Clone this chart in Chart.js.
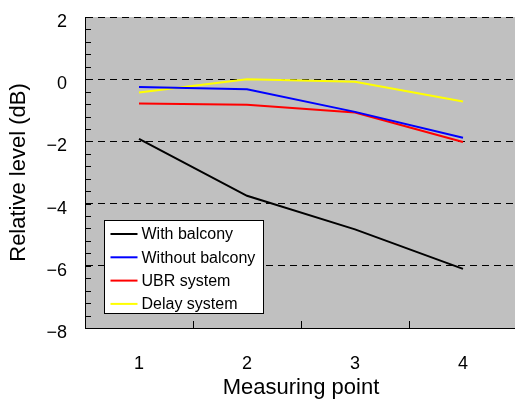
<!DOCTYPE html>
<html>
<head>
<meta charset="utf-8">
<script src="https://cdn.jsdelivr.net/npm/chart.js@4/dist/chart.umd.min.js"></script>
<style>
  html, body { margin: 0; padding: 0; background: #fff; overflow: hidden; }
  canvas { display: block; }
</style>
</head>
<body>
<canvas id="c" width="517" height="401" style="width:517px;height:401px"></canvas>
<script>
const categories = ['1', '2', '3', '4'];
const seriesNames = ['With balcony', 'Without balcony', 'UBR system', 'Delay system'];
const withBalcony = [-1.92, -3.75, -4.83, -6.10];
const withoutBalcony = [-0.25, -0.32, -1.05, -1.88];
const ubrSystem = [-0.78, -0.82, -1.07, -2.02];
const delaySystem = [-0.43, 0.00, -0.08, -0.72];
const seriesColors = ['#000000', '#0000ff', '#ff0000', '#ffff00'];
const yMin = -8, yMax = 2, yMajorStep = 2, yMinorStep = 0.4;

const FONT = 'Liberation Sans, Arial, sans-serif';

const fmt = v => (v < 0 ? '\u2212' + Math.abs(v) : String(v));

const bgPlugin = {
  id: 'plotBg',
  beforeDraw(chart) {
    const {ctx, chartArea: a} = chart;
    ctx.save();
    ctx.fillStyle = '#c0c0c0';
    ctx.fillRect(a.left, a.top, a.right - a.left, a.bottom - a.top);
    ctx.restore();
  }
};

const ticksPlugin = {
  id: 'innerTicks',
  afterDraw(chart) {
    const {ctx, chartArea: a, scales} = chart;
    const y = scales.y, x = scales.x;
    ctx.save();
    ctx.strokeStyle = '#000';
    ctx.lineWidth = 1;
    ctx.beginPath();
    const n = Math.round((yMax - yMin) / yMinorStep);
    for (let i = 1; i < n; i++) {
      const v = yMin + i * yMinorStep;
      const py = Math.round(y.getPixelForValue(v)) + 0.5;
      ctx.moveTo(a.left, py);
      ctx.lineTo(a.left + 6, py);
    }
    for (let i = 0; i < categories.length - 1; i++) {
      const px = Math.round((x.getPixelForValue(i) + x.getPixelForValue(i + 1)) / 2) + 0.5;
      ctx.moveTo(px, a.bottom);
      ctx.lineTo(px, a.bottom - 7);
    }
    ctx.stroke();
    ctx.restore();
  }
};

const legendPlugin = {
  id: 'boxLegend',
  afterDatasetsDraw(chart) {
    const {ctx, chartArea: a} = chart;
    const left = a.left + 19.5, top = a.top + 203.5, w = 159, h = 93;
    ctx.save();
    ctx.fillStyle = '#fff';
    ctx.fillRect(left, top, w, h);
    ctx.strokeStyle = '#000';
    ctx.lineWidth = 1;
    ctx.strokeRect(left, top, w, h);
    ctx.font = '16px ' + FONT;
    ctx.textBaseline = 'middle';
    ctx.textAlign = 'left';
    chart.data.datasets.forEach((ds, i) => {
      const ry = top + 13.5 + i * 23.3;
      ctx.strokeStyle = ds.borderColor;
      ctx.lineWidth = 2;
      ctx.beginPath();
      ctx.moveTo(left + 6, ry);
      ctx.lineTo(left + 33, ry);
      ctx.stroke();
      ctx.fillStyle = '#000';
      ctx.fillText(ds.label, left + 37, ry + 1);
    });
    ctx.restore();
  }
};

const seriesData = [withBalcony, withoutBalcony, ubrSystem, delaySystem];

new Chart(document.getElementById('c'), {
  type: 'line',
  data: {
    labels: categories,
    datasets: seriesData.map((d, i) => ({
      label: seriesNames[i],
      data: d,
      borderColor: seriesColors[i],
      backgroundColor: seriesColors[i],
      borderWidth: 2,
      pointRadius: 0,
      tension: 0,
      fill: false
    }))
  },
  options: {
    responsive: false,
    devicePixelRatio: 1,
    animation: false,
    layout: { padding: { top: 17, left: 0, right: 0, bottom: 0 } },
    plugins: { legend: { display: false }, tooltip: { enabled: false } },
    scales: {
      x: {
        type: 'category',
        offset: true,
        grid: { display: false, drawTicks: false },
        border: { display: true, color: '#000', width: 1 },
        ticks: { color: '#000', font: { family: FONT, size: 18 }, padding: 25, maxRotation: 0 },
        title: {
          display: true, text: 'Measuring point', color: '#000',
          font: { family: FONT, size: 22 }, padding: { top: 0, bottom: 0 }
        },
        afterFit(s) { s.height = 73; s.paddingLeft = 0; s.paddingRight = 0; }
      },
      y: {
        type: 'linear',
        min: yMin, max: yMax,
        grid: { color: '#000', lineWidth: 1, drawTicks: false },
        border: { display: true, color: '#000', width: 1, dash: [7, 5] },
        ticks: {
          stepSize: yMajorStep, color: '#000', padding: 18, labelOffset: 5,
          font: { family: FONT, size: 18 },
          callback: v => fmt(v)
        },
        title: {
          display: true, text: 'Relative level (dB)', color: '#000',
          font: { family: FONT, size: 22 }, padding: { top: 6, bottom: 0 }
        },
        afterFit(s) { s.width = 85; s.paddingTop = 0; s.paddingBottom = 0; }
      }
    }
  },
  plugins: [bgPlugin, ticksPlugin, legendPlugin]
});
</script>
</body>
</html>
